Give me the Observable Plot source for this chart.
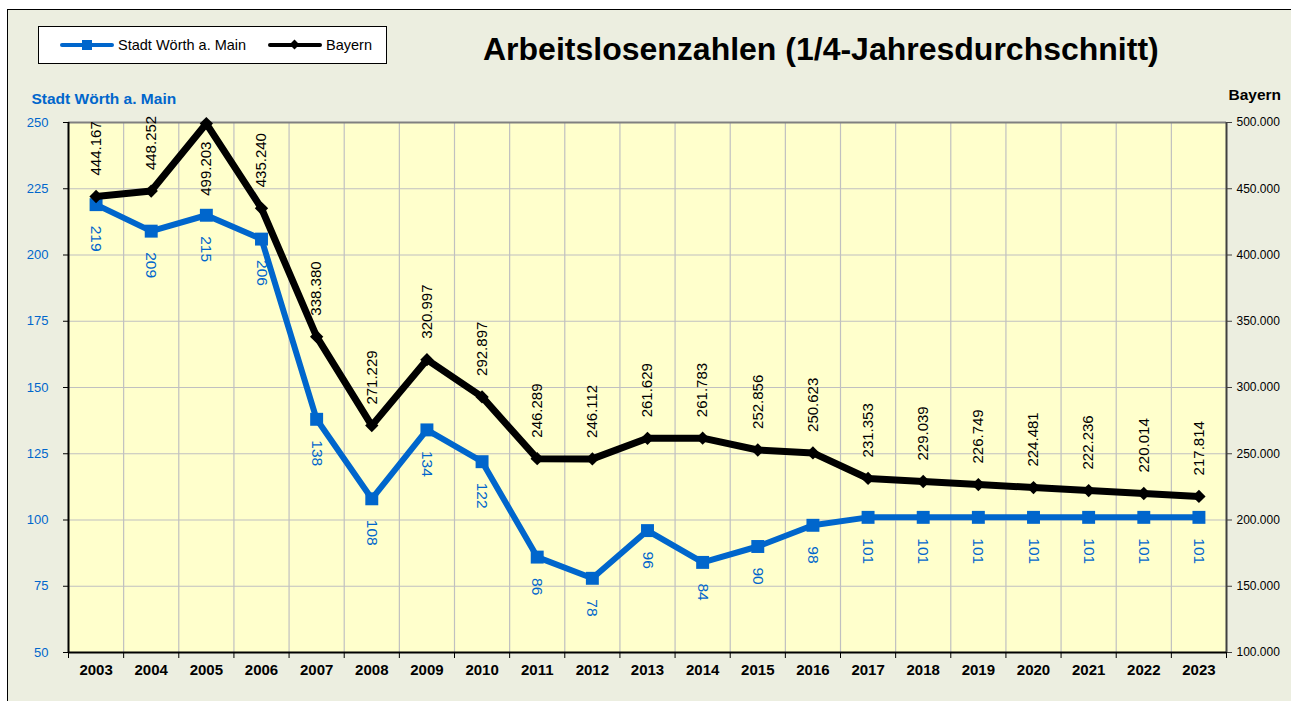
<!DOCTYPE html>
<html>
<head>
<meta charset="utf-8">
<script src="https://cdn.jsdelivr.net/npm/d3@7"></script>
<script src="https://cdn.jsdelivr.net/npm/@observablehq/plot@0.6"></script>
<style>
  html, body { margin: 0; padding: 0; background: #ffffff; width: 1291px; height: 701px; overflow: hidden; font-family: "Liberation Sans", Arial, sans-serif; }
  #frame { position: absolute; left: 7px; top: 9px; width: 1290px; height: 700px; background: #ECEEE0; border-left: 1px solid #000; border-top: 1px solid #000; }
  #legend { position: absolute; left: 38px; top: 26px; width: 347px; height: 36px; background: #fff; border: 1px solid #000; }
  .item { position: absolute; top: 0; height: 36px; display: flex; align-items: center; font-size: 14.5px; color: #000; }
  .swatch { position: relative; width: 54px; height: 36px; margin-right: 4px; }
  .swatch .ln { position: absolute; left: 0; right: 0; top: 16px; height: 4px; border-radius: 2px; }
  .swatch .sq { position: absolute; left: 22px; top: 13px; width: 10px; height: 10px; background: #0066CC; }
  .swatch .dm { position: absolute; left: 23px; top: 14px; width: 7px; height: 7px; background: #000; transform: rotate(45deg); }
  #title { position: absolute; left: 483px; top: 31px; font-size: 32px; font-weight: bold; color: #000; white-space: nowrap; }
  #chart { position: absolute; left: 0; top: 80px; }
</style>
</head>
<body>
<div id="frame"></div>
<div id="legend">
  <div class="item" style="left:21px"><div class="swatch"><div class="ln" style="background:#0066CC"></div><div class="sq"></div></div><span>Stadt Wörth a. Main</span></div>
  <div class="item" style="left:229px"><div class="swatch"><div class="ln" style="background:#000"></div><div class="dm"></div></div><span>Bayern</span></div>
</div>
<div id="title">Arbeitslosenzahlen (1/4-Jahresdurchschnitt)</div>
<div id="chart"></div>
<script>
const years = [2003, 2004, 2005, 2006, 2007, 2008, 2009, 2010, 2011, 2012, 2013, 2014, 2015, 2016, 2017, 2018, 2019, 2020, 2021, 2022, 2023];
const woerth = [219, 209, 215, 206, 138, 108, 134, 122, 86, 78, 96, 84, 90, 98, 101, 101, 101, 101, 101, 101, 101];
const bayern = [444167, 448252, 499203, 435240, 338380, 271229, 320997, 292897, 246289, 246112, 261629, 261783, 252856, 250623, 231353, 229039, 226749, 224481, 222236, 220014, 217814];
const leftTicks = [50, 75, 100, 125, 150, 175, 200, 225, 250];
const rightTicks = [100000, 150000, 200000, 250000, 300000, 350000, 400000, 450000, 500000];

const BLUE = "#0066CC";
const de = d3.formatLocale({decimal: ",", thousands: ".", grouping: [3], currency: ["", " €"]});
const fmt = de.format(",");

// map Bayern values onto the left (Wörth) scale: 100.000 -> 50, 500.000 -> 250
const yB = v => leftTicks[0] + (v - rightTicks[0]) * (leftTicks[leftTicks.length - 1] - leftTicks[0]) / (rightTicks[rightTicks.length - 1] - rightTicks[0]);
const yBinv = y => rightTicks[0] + (y - leftTicks[0]) * (rightTicks[rightTicks.length - 1] - rightTicks[0]) / (leftTicks[leftTicks.length - 1] - leftTicks[0]);

const rows = years.map((year, i) => ({year, w: woerth[i], b: bayern[i], yb: yB(bayern[i])}));
const xMin = years[0] - 0.5, xMax = years[years.length - 1] + 0.5;
const boundaries = [xMin, ...years.map(y => y + 0.5)];
const inner = years.slice(0, -1).map(y => y + 0.5);

const chart = Plot.plot({
  width: 1291,
  height: 621,
  marginLeft: 68,
  marginRight: 65,
  marginTop: 42,
  marginBottom: 49,
  style: {background: "transparent", fontFamily: "'Liberation Sans', Arial, sans-serif", overflow: "visible"},
  x: {domain: [xMin, xMax]},
  y: {domain: [leftTicks[0], leftTicks[leftTicks.length - 1]]},
  marks: [
    Plot.frame({fill: "#FFFFCC", stroke: null}),
    Plot.gridY(leftTicks, {stroke: "#C0C0C0", strokeOpacity: 1, strokeWidth: 1.2}),
    Plot.gridX(inner, {stroke: "#C0C0C0", strokeOpacity: 1, strokeWidth: 1.2}),
    Plot.ruleY([leftTicks[leftTicks.length - 1]], {stroke: "#808080", strokeWidth: 2}),
    Plot.ruleX([xMax], {stroke: "#404040", strokeWidth: 2}),
    Plot.ruleX([xMin], {stroke: "#000", strokeWidth: 2}),
    Plot.ruleY([leftTicks[0]], {stroke: "#000", strokeWidth: 2}),
    // left axis (Wörth)
    Plot.axisY(leftTicks, {anchor: "left", tickSize: 5, tickPadding: 15, stroke: "#000", fill: BLUE, fontSize: 13, label: null}),
    // right axis (Bayern)
    Plot.axisY(rightTicks.map(yB), {anchor: "right", tickSize: 5, tickPadding: 5, stroke: "#404040", fill: "#000", fontSize: 12, label: null, tickFormat: d => fmt(Math.round(yBinv(d)))}),
    // x axis
    Plot.axisX(boundaries, {anchor: "bottom", tickSize: 6, stroke: "#000", tickFormat: () => "", label: null}),
    Plot.axisX(years, {anchor: "bottom", tickSize: 0, tickPadding: 12, fontSize: 15, fontWeight: "bold", fill: "#000", tickFormat: d => String(d), label: null}),
    // axis titles
    Plot.text(["Stadt Wörth a. Main"], {frameAnchor: "top-left", dx: -37, dy: -30, textAnchor: "start", fill: BLUE, fontSize: 15.5, fontWeight: "bold"}),
    Plot.text(["Bayern"], {frameAnchor: "top-right", dx: 2, dy: -34, textAnchor: "start", fill: "#000", fontSize: 15.5, fontWeight: "bold"}),
    // series
    Plot.line(rows, {x: "year", y: "w", stroke: BLUE, strokeWidth: 6, strokeLinejoin: "miter"}),
    Plot.dot(rows, {x: "year", y: "w", symbol: "square", fill: BLUE, stroke: null, r: 7.3}),
    Plot.line(rows, {x: "year", y: "yb", stroke: "#000", strokeWidth: 7, strokeLinejoin: "miter"}),
    Plot.dot(rows, {x: "year", y: "yb", symbol: "diamond2", fill: "#000", stroke: null, r: 6}),
    // labels
    Plot.text(rows.filter(d => d.yb <= 240), {x: "year", y: "yb", text: d => fmt(d.b), rotate: -90, textAnchor: "start", dy: -21, fontSize: 15, fill: "#000"}),
    Plot.text(rows.filter(d => d.yb > 240), {x: "year", y: "yb", text: d => fmt(d.b), rotate: -90, textAnchor: "end", dy: 18, fontSize: 15, fill: "#000"}),
    Plot.text(rows, {x: "year", y: "w", text: d => String(d.w), rotate: 90, textAnchor: "start", dy: 21, fontSize: 15.5, fill: BLUE})
  ]
});
document.getElementById("chart").appendChild(chart);
</script>
</body>
</html>
